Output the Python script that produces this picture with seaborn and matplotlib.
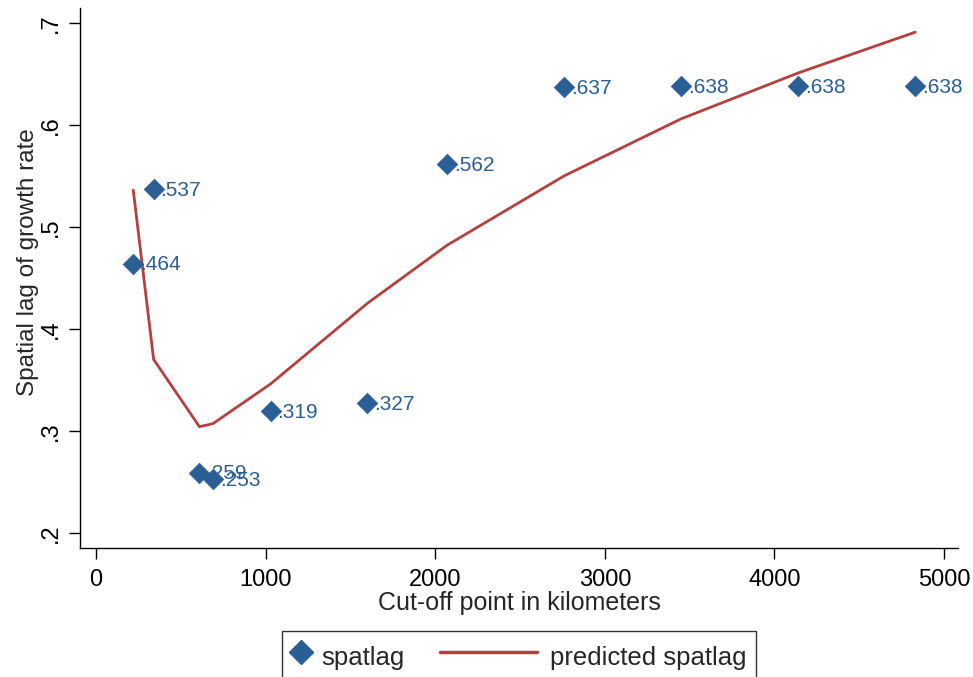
import matplotlib
matplotlib.use("Agg")
import matplotlib.pyplot as plt
import seaborn as sns
import pandas as pd
from matplotlib.lines import Line2D
from matplotlib.legend_handler import HandlerLine2D

cutoff = [220, 340, 610, 690, 1030, 1600, 2070, 2760, 3450, 4140, 4830]
spatlag = [0.464, 0.537, 0.259, 0.253, 0.319, 0.327, 0.562, 0.637, 0.638, 0.638, 0.638]
labels = [".464", ".537", ".259", ".253", ".319", ".327", ".562", ".637", ".638", ".638", ".638"]
predicted = [0.536, 0.370, 0.304, 0.307, 0.346, 0.425, 0.482, 0.550, 0.606, 0.651, 0.691]
xticks = [0, 1000, 2000, 3000, 4000, 5000]
yticks = [0.2, 0.3, 0.4, 0.5, 0.6, 0.7]
yticklabels = [".2", ".3", ".4", ".5", ".6", ".7"]

sns.set_style("white")
plt.rcParams['font.family'] = ['Liberation Sans', 'DejaVu Sans']

BLUE = "#2a5f96"
RED = "#b5403f"

df = pd.DataFrame({"cutoff": cutoff, "spatlag": spatlag, "predicted": predicted})

fig = plt.figure(figsize=(9.73, 6.77), dpi=100)
ax = fig.add_axes([80/973, 1-548/677, (958-80)/973, (548-8)/677])

sns.lineplot(data=df, x="cutoff", y="predicted", ax=ax, color=RED, linewidth=2.0, sort=False)
sns.scatterplot(data=df, x="cutoff", y="spatlag", ax=ax, marker="D", s=110, color=BLUE,
                edgecolor=BLUE, linewidth=0.5, zorder=3)
for x, y, t in zip(cutoff, spatlag, labels):
    ax.annotate(t, (x, y), xytext=(5, -1), textcoords="offset points", va="center", ha="left",
                color=BLUE, fontsize=15)

ax.set_xlim(-94, 5082)
ax.set_ylim(0.185, 0.7147)
ax.set_xticks(xticks)
ax.set_xticklabels([str(v) for v in xticks], fontsize=17)
ax.set_yticks(yticks)
ax.set_yticklabels(yticklabels, fontsize=17, rotation=90, va="center")
ax.set_xlabel("Cut-off point in kilometers", fontsize=18, labelpad=0)
ax.set_ylabel("Spatial lag of growth rate", fontsize=17.5, labelpad=0.5)
ax.yaxis.label.set_y(0.53)

for s in ["top", "right"]:
    ax.spines[s].set_visible(False)
for s in ["left", "bottom"]:
    ax.spines[s].set_color("black")
    ax.spines[s].set_linewidth(1.0)
ax.tick_params(axis="both", which="both", direction="out", length=8, width=1, color="black",
               left=True, bottom=True, labelcolor="black", pad=5)
ax.tick_params(axis="x", pad=7)


class LongLineHandler(HandlerLine2D):
    def create_artists(self, legend, orig_handle, xdescent, ydescent, width, height,
                       fontsize, trans):
        artists = super().create_artists(legend, orig_handle, xdescent, ydescent, width,
                                         height, fontsize, trans)
        y0 = artists[0].get_ydata()[0]
        artists[0].set_data([-xdescent - 57.5, -xdescent + 12.4], [y0, y0])
        return artists


diamond_handle = Line2D([], [], marker="D", linestyle="none", color=BLUE, markersize=12)
line_handle = Line2D([], [], color=RED, linewidth=2.5)
leg = fig.legend([diamond_handle, line_handle], ["spatlag", "predicted spatlag"],
                 loc="upper center", bbox_to_anchor=(518.5/973, 1-631/677), ncol=2,
                 fontsize=18.5, frameon=True, fancybox=False, edgecolor="black",
                 handlelength=0.8, handleheight=1.6, handletextpad=0.38, columnspacing=4.5,
                 borderpad=0.35, borderaxespad=0,
                 handler_map={line_handle: LongLineHandler()})
leg.get_frame().set_linewidth(1.0)

fig.savefig("out.png", dpi=100)
